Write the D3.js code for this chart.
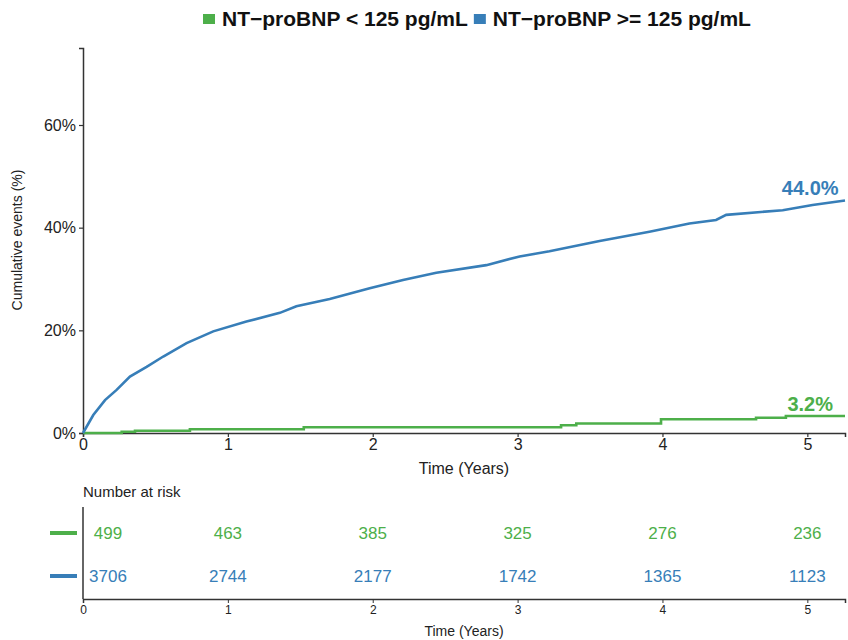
<!DOCTYPE html>
<html>
<head>
<meta charset="utf-8">
<script src="https://cdn.jsdelivr.net/npm/d3@7"></script>
<style>
  body { margin: 0; background: #fff; }
  text { font-family: "Liberation Sans", Arial, sans-serif; }
</style>
</head>
<body>
<div class="graph"></div>
<script>
// groups
let groups = ["NT\u2212proBNP < 125 pg/mL", "NT\u2212proBNP >= 125 pg/mL"];
let colors = ["#4daf4a", "#377eb8"];

// cumulative incidence (years, %)
let lowTimes = [0, 0.267, 0.359, 0.738, 1.524, 3.30, 3.405, 3.99, 4.646, 4.852, 5.26];
let lowValues = [0, 0.25, 0.45, 0.72, 1.13, 1.52, 1.85, 2.67, 2.98, 3.31, 3.31];
let highTimes = [0, 0.071, 0.152, 0.232, 0.324, 0.439, 0.554, 0.715, 0.899, 1.128, 1.359, 1.473,
    1.703, 1.979, 2.209, 2.439, 2.784, 3.014, 3.22, 3.566, 3.91, 4.186, 4.37, 4.44, 4.83, 5.036, 5.26];
let highValues = [0, 3.5, 6.4, 8.4, 11.0, 12.9, 14.9, 17.5, 19.8, 21.7, 23.4, 24.7,
    26.1, 28.2, 29.8, 31.2, 32.7, 34.4, 35.4, 37.4, 39.2, 40.8, 41.5, 42.5, 43.4, 44.4, 45.3];
let endLabels = ["3.2%", "44.0%"];

// number at risk table
let riskTimes = [0, 1, 2, 3, 4, 5];
let riskLow = [499, 463, 385, 325, 276, 236];
let riskHigh = [3706, 2744, 2177, 1742, 1365, 1123];

let xTicks = [0, 1, 2, 3, 4, 5];
let yTicks = [0, 20, 40, 60];

let W = 848, H = 640;
let svg = d3.select(".graph").append("svg")
    .attr("width", W).attr("height", H);

let x = d3.scaleLinear().domain([0, 5.26]).range([83, 845]);
let y = d3.scaleLinear().domain([0, 75]).range([433, 48]);

let curves = [
    {times: lowTimes, values: lowValues, curve: d3.curveStepAfter},
    {times: highTimes, values: highValues, curve: d3.curveLinear}
];

// axes
let xAxis = svg.append("g")
    .attr("transform", "translate(0,433)")
    .call(d3.axisBottom(x).tickValues(xTicks).tickSize(4).tickPadding(2).tickFormat(d3.format("d")));
let yAxis = svg.append("g")
    .attr("transform", "translate(83,0)")
    .call(d3.axisLeft(y).tickValues(yTicks).tickSize(4).tickPadding(3).tickFormat(d => d + "%"));
[xAxis, yAxis].forEach(a => {
    a.select(".domain").attr("stroke", "#333").attr("stroke-width", 1.5);
    a.selectAll(".tick line").attr("stroke", "#333").attr("stroke-width", 1.2);
    a.selectAll(".tick text").attr("fill", "#222").style("font-size", "16px");
});

// curves
curves.forEach((c, i) => {
    let line = d3.line()
        .x((d, j) => x(c.times[j]))
        .y(d => y(d))
        .curve(c.curve);
    svg.append("path")
        .attr("d", line(c.values))
        .attr("fill", "none")
        .attr("stroke", colors[i])
        .attr("stroke-width", 2.6);
    svg.append("text")
        .attr("x", x(5.02))
        .attr("y", y(c.values[c.values.length - 1]) - 5)
        .attr("text-anchor", "middle")
        .attr("fill", colors[i])
        .style("font-size", "20px")
        .style("font-weight", "bold")
        .text(endLabels[i]);
});

svg.append("text")
    .attr("x", 464).attr("y", 474)
    .attr("text-anchor", "middle").attr("fill", "#222")
    .style("font-size", "16px")
    .text("Time (Years)");
svg.append("text")
    .attr("transform", "translate(22,240) rotate(-90)")
    .attr("text-anchor", "middle").attr("fill", "#222")
    .style("font-size", "14px")
    .text("Cumulative events (%)");

// legend
let lx = 203;
groups.forEach((g, i) => {
    svg.append("rect")
        .attr("x", lx).attr("y", 14)
        .attr("width", 12).attr("height", 10)
        .attr("fill", colors[i]);
    let t = svg.append("text")
        .attr("x", lx + 19).attr("y", 26)
        .attr("fill", "#111")
        .style("font-size", "21px")
        .style("font-weight", "bold")
        .text(g);
    lx += 19 + t.node().getComputedTextLength() + 6;
});

// risk table
svg.append("text")
    .attr("x", 83).attr("y", 497)
    .attr("fill", "#222")
    .style("font-size", "15px")
    .text("Number at risk");

let rx = d3.scaleLinear().domain([0, 5.26]).range([83, 845]);
let rows = [riskLow, riskHigh];
let rowY = d3.scalePoint().domain([0, 1]).range([533, 576]);

let rAxis = svg.append("g")
    .attr("transform", "translate(0,599)")
    .call(d3.axisBottom(rx).tickValues(xTicks).tickSize(4).tickPadding(2).tickFormat(d3.format("d")));
rAxis.select(".domain").attr("stroke", "#333").attr("stroke-width", 1.5);
rAxis.selectAll(".tick line").attr("stroke", "#333");
rAxis.selectAll(".tick text").attr("fill", "#222").style("font-size", "12px");

svg.append("line")
    .attr("x1", 83).attr("x2", 83)
    .attr("y1", 507).attr("y2", 599)
    .attr("stroke", "#333").attr("stroke-width", 1.5);

rows.forEach((r, i) => {
    svg.append("line")
        .attr("x1", 50).attr("x2", 77)
        .attr("y1", rowY(i)).attr("y2", rowY(i))
        .attr("stroke", colors[i]).attr("stroke-width", 4);
    svg.selectAll(null)
        .data(r)
        .enter().append("text")
        .attr("x", (d, j) => rx(riskTimes[j]) + (j === 0 ? 25 : 0))
        .attr("y", rowY(i) + 6)
        .attr("text-anchor", "middle")
        .attr("fill", colors[i])
        .style("font-size", "17px")
        .text(d => d);
});

svg.append("text")
    .attr("x", 464).attr("y", 636)
    .attr("text-anchor", "middle").attr("fill", "#222")
    .style("font-size", "14px")
    .text("Time (Years)");
</script>
</body>
</html>
